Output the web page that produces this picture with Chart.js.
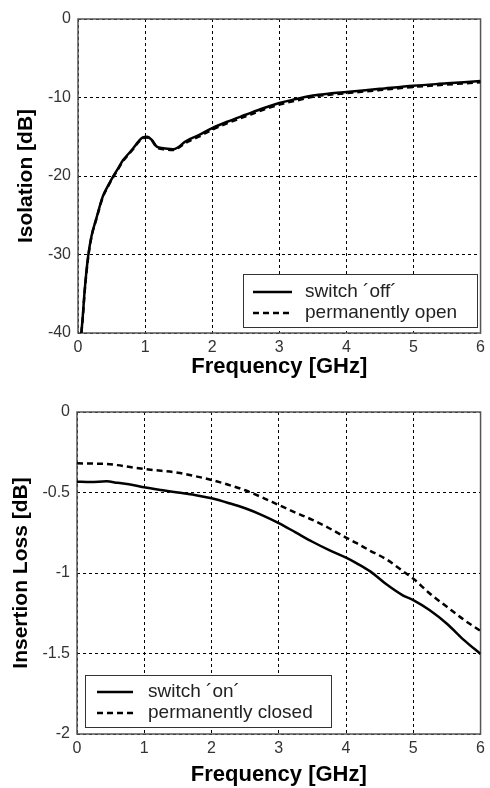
<!DOCTYPE html>
<html>
<head>
<meta charset="utf-8">
<script src="https://cdn.jsdelivr.net/npm/chart.js@4.4.1/dist/chart.umd.min.js"></script>
<style>
  html, body { margin: 0; padding: 0; background: #fff; }
  .box { position: relative; width: 490px; height: 394px; }
</style>
</head>
<body>
<div class="box"><canvas id="isoChart"></canvas></div>
<div class="box"><canvas id="ilChart"></canvas></div>
<script>
// Isolation (switch off / permanently open)
const isoFreq = [0.05, 0.07, 0.10, 0.15, 0.20, 0.28, 0.37, 0.45, 0.52, 0.60, 0.67, 0.75, 0.82, 0.90, 0.96, 1.03, 1.10, 1.18, 1.30, 1.41, 1.50, 1.60, 1.80, 2.00, 2.25, 2.50, 2.75, 3.00, 3.25, 3.50, 3.75, 4.00, 4.50, 5.00, 5.50, 6.00];
const isoOff  = [-40, -38, -34.5, -30.3, -27.7, -25.2, -22.6, -21.2, -20.1, -19.0, -18.0, -17.2, -16.5, -15.6, -15.1, -15.0, -15.4, -16.3, -16.5, -16.6, -16.3, -15.6, -14.8, -13.9, -13.0, -12.2, -11.4, -10.7, -10.2, -9.75, -9.5, -9.3, -8.9, -8.5, -8.2, -7.9];
const isoOpen = [-40, -38.2, -34.7, -30.5, -27.8, -25.3, -22.7, -21.3, -20.2, -19.1, -18.1, -17.3, -16.6, -15.7, -15.2, -15.1, -15.5, -16.4, -16.6, -16.7, -16.4, -15.8, -15.0, -14.1, -13.2, -12.4, -11.6, -10.9, -10.4, -9.9, -9.65, -9.45, -9.05, -8.65, -8.35, -8.05];
const isoTicks = ['0', '-10', '-20', '-30', '-40'];

// Insertion loss (switch on / permanently closed)
const ilFreq   = [0, 0.2, 0.44, 0.6, 0.83, 1.0, 1.25, 1.5, 1.75, 2.0, 2.25, 2.5, 2.75, 3.0, 3.25, 3.5, 3.75, 4.0, 4.16, 4.36, 4.6, 4.85, 5.0, 5.24, 5.5, 5.75, 6.0];
const ilOn     = [-0.433, -0.435, -0.43, -0.44, -0.453, -0.468, -0.485, -0.50, -0.515, -0.536, -0.565, -0.598, -0.64, -0.69, -0.748, -0.806, -0.858, -0.905, -0.94, -0.99, -1.07, -1.14, -1.168, -1.23, -1.315, -1.415, -1.503];
const ilClosed = [-0.319, -0.32, -0.323, -0.33, -0.345, -0.354, -0.365, -0.377, -0.398, -0.422, -0.452, -0.486, -0.53, -0.578, -0.625, -0.67, -0.722, -0.78, -0.815, -0.862, -0.915, -0.99, -1.035, -1.126, -1.21, -1.29, -1.36];
const ilTicks = ['0', '-0.5', '-1', '-1.5', '-2'];

const freqTicks = ['0', '1', '2', '3', '4', '5', '6'];

const toPts = (xs, ys) => xs.map((x, i) => ({ x: x, y: ys[i] }));

// frame round the plot area + legend box inside it
const framePlugin = {
    id: 'frame',
    beforeDatasetsDraw(chart) {
        const { ctx, chartArea: a } = chart;
        ctx.save();
        ctx.strokeStyle = '#555';
        ctx.lineWidth = 1.5;
        ctx.strokeRect(a.left, a.top, a.right - a.left, a.bottom - a.top);
        ctx.restore();
    },
    afterDatasetsDraw(chart, args, opts) {
        const { ctx } = chart;
        ctx.save();
        ctx.fillStyle = '#fff';
        ctx.fillRect(opts.x, opts.y, opts.w, opts.h);
        ctx.strokeStyle = '#333';
        ctx.lineWidth = 1;
        ctx.strokeRect(opts.x + 0.5, opts.y + 0.5, opts.w, opts.h);
        ctx.font = '19px Arial, "Liberation Sans", sans-serif';
        ctx.textBaseline = 'middle';
        chart.data.datasets.forEach((ds, i) => {
            const y = opts.y + opts.row0 + i * opts.rowGap;
            ctx.strokeStyle = '#000';
            ctx.lineWidth = 2.5;
            ctx.setLineDash(ds.borderDash || []);
            ctx.beginPath();
            ctx.moveTo(opts.x + opts.lineX0, y);
            ctx.lineTo(opts.x + opts.lineX1, y);
            ctx.stroke();
            ctx.setLineDash([]);
            ctx.fillStyle = '#222';
            ctx.fillText(ds.label, opts.x + opts.textX, y);
        });
        ctx.restore();
    }
};

function makeChart(id, datasets, yMin, yStep, yTicks, yTitle, sizes, legend) {
    return new Chart(document.getElementById(id), {
        type: 'line',
        data: { datasets: datasets },
        options: {
            responsive: true,
            maintainAspectRatio: false,
            animation: false,
            layout: { padding: { top: sizes.top, right: 5, left: 0, bottom: 0 } },
            elements: {
                point: { radius: 0 },
                line: { cubicInterpolationMode: 'monotone', borderWidth: 2.5, borderColor: '#000' }
            },
            plugins: { legend: { display: false }, tooltip: { enabled: false }, frame: legend },
            scales: {
                x: {
                    type: 'linear', min: 0, max: 6,
                    afterFit: s => { s.height = sizes.xh; },
                    grid: { color: '#000', lineWidth: 1, drawTicks: false },
                    border: { display: false, dash: [3, 3] },
                    ticks: {
                        stepSize: 1, padding: 5, color: '#333',
                        font: { family: 'Arial, "Liberation Sans", sans-serif', size: 16 },
                        callback: (v, i) => freqTicks[i]
                    },
                    title: {
                        display: true, text: 'Frequency [GHz]', color: '#000',
                        font: { family: 'Arial, "Liberation Sans", sans-serif', size: 22, weight: 'bold' },
                        padding: { top: 0, bottom: sizes.xtp }
                    }
                },
                y: {
                    min: yMin, max: 0,
                    afterFit: s => { s.width = sizes.yw; },
                    grid: { color: '#000', lineWidth: 1, drawTicks: false },
                    border: { display: false, dash: [3, 3] },
                    ticks: {
                        stepSize: yStep, padding: 7, color: '#333',
                        font: { family: 'Arial, "Liberation Sans", sans-serif', size: 16 },
                        callback: (v, i, all) => yTicks[all.length - 1 - i]
                    },
                    title: {
                        display: true, text: yTitle, color: '#000',
                        font: { family: 'Arial, "Liberation Sans", sans-serif', size: 21, weight: 'bold' },
                        padding: { top: sizes.ytp, bottom: 0 }
                    }
                }
            }
        },
        plugins: [framePlugin]
    });
}

makeChart('isoChart', [
    { label: 'switch \u00b4off\u00b4', data: toPts(isoFreq, isoOff), borderColor: '#000' },
    { label: 'permanently open', data: toPts(isoFreq, isoOpen), borderColor: '#000', borderDash: [6, 4] }
], -40, 10, isoTicks, 'Isolation [dB]',
    { top: 19, xh: 61, xtp: 14, yw: 78, ytp: 14 },
    { x: 243, y: 274, w: 234, h: 53, row0: 18, rowGap: 21, lineX0: 10, lineX1: 49, textX: 62 });

makeChart('ilChart', [
    { label: 'switch \u00b4on\u00b4', data: toPts(ilFreq, ilOn), borderColor: '#000' },
    { label: 'permanently closed', data: toPts(ilFreq, ilClosed), borderColor: '#000', borderDash: [6, 4] }
], -2, 0.5, ilTicks, 'Insertion Loss [dB]',
    { top: 18, xh: 54, xtp: 0, yw: 77, ytp: 9 },
    { x: 85, y: 281, w: 246, h: 52, row0: 17, rowGap: 21, lineX0: 12, lineX1: 48, textX: 63 });
</script>
</body>
</html>
